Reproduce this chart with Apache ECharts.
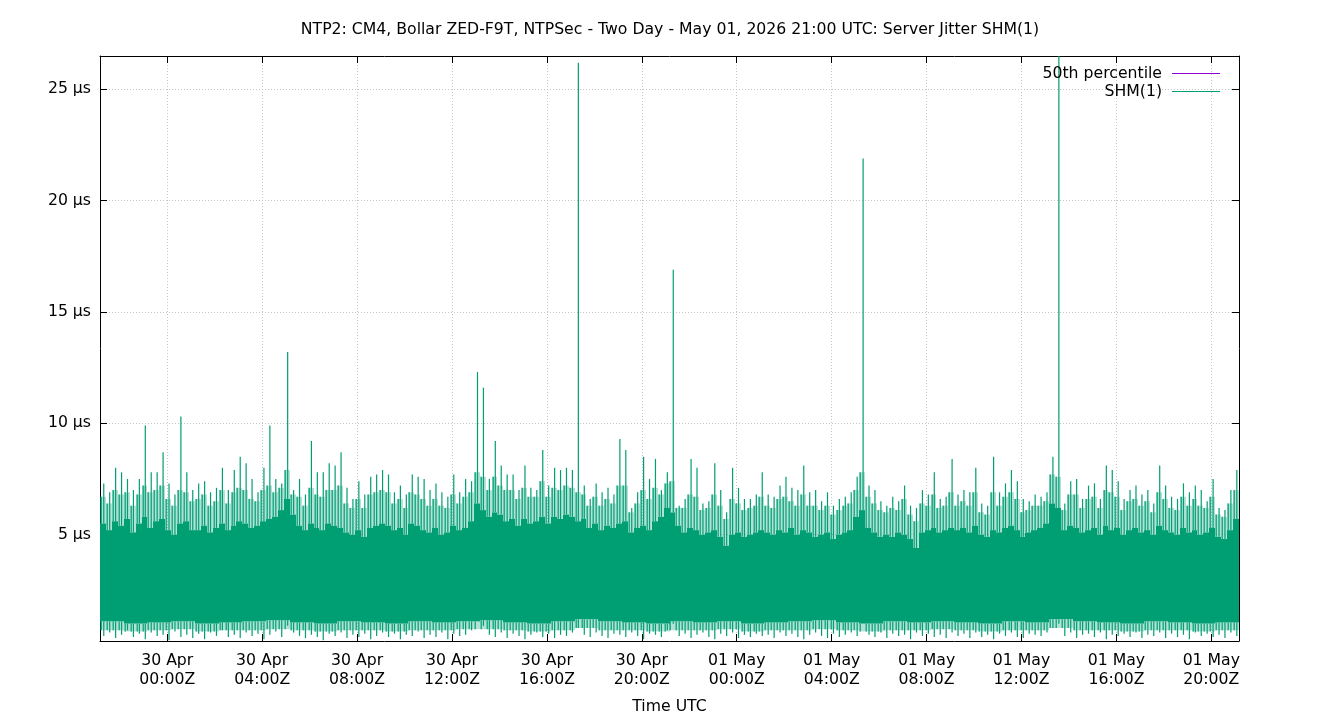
<!DOCTYPE html>
<html><head><meta charset="utf-8">
<script src="https://cdn.jsdelivr.net/npm/echarts@6/dist/echarts.min.js"></script>
<style>html,body{margin:0;padding:0;background:#fff}#c{width:1340px;height:720px}</style>
</head><body><div id="c"></div>
<script>
// time range of the plot (UTC)
const START = Date.UTC(2026, 3, 29, 21, 10);
const END = Date.UTC(2026, 4, 1, 21, 10);
const BIN_MS = 15 * 60 * 1000;

// per 15-minute bin: highest jitter value seen (µs)
const binPeak = [
  7.3, 6.9, 8.0, 7.8, 7.5, 7.0, 7.5, 9.9, 7.8, 7.8, 8.7, 7.3, 6.8, 10.3, 7.8, 7.0,
  7.3, 7.4, 6.9, 7.1, 8.0, 7.0, 7.9, 8.5, 8.2, 7.5, 6.9, 8.0, 9.9, 7.5, 7.3, 13.2,
  7.0, 7.5, 6.8, 9.2, 7.8, 7.8, 8.2, 8.1, 8.7, 7.1, 6.6, 7.4, 6.8, 7.6, 7.7, 7.9,
  7.7, 6.9, 7.2, 6.8, 7.7, 7.6, 7.5, 7.0, 7.3, 6.9, 6.7, 7.7, 6.9, 7.5, 7.4, 12.3,
  11.6, 7.5, 9.2, 8.1, 7.7, 7.7, 7.0, 8.1, 7.1, 7.0, 8.8, 7.2, 8.0, 7.9, 8.0, 7.9,
  26.2, 7.2, 6.6, 7.3, 6.9, 7.1, 6.8, 9.3, 8.8, 6.2, 6.9, 8.5, 7.5, 8.4, 7.0, 7.8,
  16.9, 6.3, 6.6, 8.4, 8.0, 6.4, 6.5, 8.2, 7.0, 6.0, 8.0, 7.1, 6.6, 6.6, 6.8, 7.8,
  6.8, 6.7, 7.2, 7.6, 7.1, 7.0, 8.1, 6.9, 7.0, 6.5, 6.9, 6.3, 6.6, 6.7, 6.9, 7.6,
  21.9, 7.2, 7.0, 6.5, 6.3, 6.7, 6.5, 7.2, 6.3, 6.2, 7.0, 6.8, 7.8, 6.6, 6.7, 8.4,
  6.8, 7.0, 6.9, 8.0, 6.4, 6.3, 8.5, 6.9, 7.3, 7.9, 7.4, 6.6, 6.5, 6.8, 6.7, 6.9,
  8.5, 27.0, 6.4, 7.4, 7.5, 6.6, 7.2, 7.3, 6.6, 8.1, 7.9, 7.4, 6.6, 7.0, 7.2, 6.8,
  7.0, 6.4, 8.1, 7.2, 6.7, 6.6, 7.3, 6.9, 7.2, 7.0, 6.5, 7.5, 6.2, 6.1, 7.0, 7.9
];
// per 15-minute bin: upper reach of the busy (half-dense) zone (µs)
const binUpper = [
  6.7, 6.4, 7.0, 6.8, 6.9, 6.3, 6.8, 7.2, 6.9, 7.0, 7.2, 6.6, 6.3, 7.0, 6.9, 6.5,
  6.6, 6.8, 6.3, 6.5, 7.0, 6.4, 6.9, 7.1, 7.0, 6.6, 6.5, 7.0, 7.2, 6.9, 7.1, 7.9,
  6.8, 6.7, 6.3, 7.1, 6.8, 6.7, 7.0, 7.0, 7.2, 6.4, 6.2, 6.6, 6.2, 6.8, 6.9, 7.0,
  6.9, 6.4, 6.6, 6.2, 6.9, 6.8, 6.6, 6.3, 6.6, 6.3, 6.2, 6.8, 6.4, 6.7, 6.9, 7.8,
  7.6, 7.0, 7.6, 7.2, 7.0, 7.0, 6.6, 7.1, 6.7, 6.7, 7.4, 6.7, 7.1, 7.0, 7.2, 7.1,
  6.9, 6.8, 6.3, 6.7, 6.3, 6.6, 6.4, 7.2, 7.2, 6.0, 6.4, 7.0, 6.6, 7.1, 6.8, 7.3,
  7.4, 6.2, 6.2, 6.8, 6.7, 6.1, 6.2, 6.8, 6.3, 5.7, 6.6, 6.4, 6.1, 6.2, 6.3, 6.7,
  6.3, 6.2, 6.6, 6.7, 6.5, 6.3, 6.8, 6.3, 6.3, 6.1, 6.3, 5.9, 6.1, 6.3, 6.4, 7.0,
  7.8, 6.7, 6.4, 6.1, 6.0, 6.2, 6.1, 6.6, 5.9, 5.6, 6.4, 6.3, 6.8, 6.2, 6.3, 6.9,
  6.3, 6.5, 6.3, 6.9, 6.0, 5.9, 6.9, 6.3, 6.7, 6.9, 6.6, 6.0, 6.1, 6.3, 6.3, 6.5,
  7.7, 7.6, 6.1, 6.8, 6.8, 6.2, 6.6, 6.7, 6.2, 7.0, 6.9, 6.7, 6.1, 6.5, 6.6, 6.3,
  6.5, 6.0, 6.9, 6.6, 6.2, 6.1, 6.7, 6.3, 6.6, 6.3, 6.2, 6.7, 5.9, 5.8, 6.4, 7.0
];
// per 15-minute bin: upper edge of the solid band (µs)
const binTop = [
  5.5, 5.2, 5.6, 5.4, 5.7, 5.1, 5.5, 5.8, 5.3, 5.6, 5.7, 5.2, 5.0, 5.5, 5.6, 5.2,
  5.2, 5.4, 5.1, 5.3, 5.5, 5.2, 5.4, 5.6, 5.5, 5.3, 5.4, 5.6, 5.7, 5.8, 6.1, 6.6,
  5.9, 5.4, 5.2, 5.5, 5.3, 5.2, 5.5, 5.4, 5.3, 5.1, 5.0, 5.2, 4.9, 5.3, 5.4, 5.5,
  5.4, 5.2, 5.3, 5.0, 5.5, 5.4, 5.2, 5.1, 5.3, 5.0, 5.1, 5.4, 5.2, 5.3, 5.6, 6.4,
  6.1, 5.8, 6.0, 5.9, 5.6, 5.7, 5.4, 5.7, 5.5, 5.6, 5.8, 5.5, 5.8, 5.7, 5.9, 5.8,
  5.6, 5.7, 5.3, 5.5, 5.2, 5.4, 5.3, 5.5, 5.6, 5.1, 5.3, 5.4, 5.2, 5.6, 5.8, 6.2,
  6.0, 5.4, 5.1, 5.3, 5.2, 5.0, 5.1, 5.2, 4.9, 4.5, 5.0, 5.1, 4.9, 5.0, 5.1, 5.2,
  5.1, 5.0, 5.2, 5.1, 5.3, 5.0, 5.2, 5.1, 4.9, 5.0, 5.1, 4.8, 5.0, 5.1, 5.2, 5.8,
  6.1, 5.3, 5.1, 4.9, 5.0, 4.9, 5.1, 5.0, 4.8, 4.4, 5.1, 5.2, 5.3, 5.1, 5.2, 5.3,
  5.2, 5.3, 5.1, 5.4, 5.0, 4.9, 5.2, 5.1, 5.3, 5.4, 5.2, 4.9, 5.1, 5.2, 5.3, 5.5,
  6.4, 6.2, 5.2, 5.4, 5.3, 5.1, 5.2, 5.3, 5.0, 5.4, 5.2, 5.3, 5.0, 5.2, 5.3, 5.1,
  5.2, 5.0, 5.4, 5.2, 5.1, 5.0, 5.3, 5.1, 5.2, 5.0, 5.1, 5.3, 4.9, 4.8, 5.2, 5.7
];
// per 15-minute bin: lowest jitter value seen (µs)
const binDip = [
  0.45, 0.6, 0.35, 0.5, 0.7, 0.4, 0.55, 0.3, 0.6, 0.45, 0.5, 0.25, 0.65, 0.4, 0.5, 0.35,
  0.55, 0.3, 0.6, 0.45, 0.7, 0.4, 0.5, 0.35, 0.6, 0.45, 0.55, 0.3, 0.5, 0.65, 0.4, 0.9,
  0.6, 0.45, 0.35, 0.5, 0.4, 0.25, 0.55, 0.45, 0.6, 0.35, 0.5, 0.4, 0.55, 0.3, 0.45, 0.6,
  0.4, 0.55, 0.3, 0.5, 0.45, 0.65, 0.35, 0.5, 0.4, 0.6, 0.3, 0.55, 0.45, 0.5, 0.7, 1.1,
  0.9, 0.5, 0.4, 0.6, 0.35, 0.55, 0.45, 0.3, 0.5, 0.6, 0.4, 0.55, 0.35, 0.5, 0.45, 0.6,
  0.8, 0.5, 0.4, 0.6, 0.45, 0.35, 0.55, 0.5, 0.4, 0.6, 0.45, 0.3, 0.55, 0.5, 0.4, 0.7,
  1.0, 0.45, 0.55, 0.35, 0.5, 0.6, 0.4, 0.3, 0.55, 0.45, 0.6, 0.35, 0.5, 0.4, 0.55, 0.45,
  0.5, 0.35, 0.6, 0.45, 0.55, 0.4, 0.3, 0.5, 0.6, 0.45, 0.35, 0.55, 0.4, 0.5, 0.6, 0.45,
  1.0, 0.5, 0.4, 0.6, 0.35, 0.55, 0.45, 0.5, 0.3, 0.6, 0.45, 0.55, 0.4, 0.5, 0.35, 0.6,
  0.45, 0.55, 0.35, 0.6, 0.4, 0.5, 0.3, 0.55, 0.45, 0.6, 0.4, 0.35, 0.55, 0.5, 0.45, 0.6,
  0.8, 1.0, 0.45, 0.6, 0.35, 0.5, 0.55, 0.4, 0.6, 0.3, 0.5, 0.45, 0.55, 0.4, 0.6, 0.35,
  0.5, 0.45, 0.6, 0.35, 0.55, 0.4, 0.5, 0.3, 0.6, 0.45, 0.55, 0.4, 0.5, 0.35, 0.6, 0.45
];
// per hour: lower edge of the solid band (µs)
const hourFloor = [
  1.1, 1.0, 1.05, 1.1, 1.0, 1.05, 1.1, 1.15, 1.05, 1.0, 1.1, 1.05,
  1.0, 1.1, 1.05, 1.1, 1.15, 1.05, 1.0, 1.1, 1.2, 1.1, 1.05, 1.0,
  1.1, 1.05, 1.1, 1.0, 1.05, 1.1, 1.15, 1.05, 1.0, 1.1, 1.05, 1.1,
  1.05, 1.0, 1.1, 1.05, 1.2, 1.1, 1.05, 1.0, 1.1, 1.05, 1.0, 1.05
];
// per hour: lower reach of the busy (half-dense) zone (µs)
const hourLower = [
  0.7, 0.65, 0.7, 0.75, 0.65, 0.7, 0.7, 0.75, 0.7, 0.65, 0.7, 0.7,
  0.65, 0.7, 0.7, 0.75, 0.75, 0.7, 0.65, 0.7, 0.8, 0.7, 0.7, 0.65,
  0.7, 0.7, 0.75, 0.65, 0.7, 0.7, 0.75, 0.7, 0.65, 0.7, 0.7, 0.75,
  0.7, 0.65, 0.7, 0.7, 0.8, 0.7, 0.7, 0.65, 0.7, 0.7, 0.65, 0.7
];
// 50th percentile (µs)
const p50Value = 2.07;

// tick positions / labels
const xTickTimes = [
  Date.UTC(2026, 3, 30, 0), Date.UTC(2026, 3, 30, 4), Date.UTC(2026, 3, 30, 8),
  Date.UTC(2026, 3, 30, 12), Date.UTC(2026, 3, 30, 16), Date.UTC(2026, 3, 30, 20),
  Date.UTC(2026, 4, 1, 0), Date.UTC(2026, 4, 1, 4), Date.UTC(2026, 4, 1, 8),
  Date.UTC(2026, 4, 1, 12), Date.UTC(2026, 4, 1, 16), Date.UTC(2026, 4, 1, 20)
];
const yTickValues = [5, 10, 15, 20, 25];
const monthNames = ['Jan','Feb','Mar','Apr','May','Jun','Jul','Aug','Sep','Oct','Nov','Dec'];

const TITLE = 'NTP2: CM4, Bollar ZED-F9T, NTPSec - Two Day - May 01, 2026 21:00 UTC: Server Jitter SHM(1)';
const FONT = 'DejaVu Sans';
const FS = 15.7;
const GREEN = '#009e73';
const PURPLE = '#9400d3';

const pad = n => (n < 10 ? '0' : '') + n;
// [time, floor, top, dip, peak, upper, lower]
const binData = binPeak.map((pk, i) => {
  const h = Math.floor(i / 4);
  return [START + (i + 0.5) * BIN_MS, hourFloor[h], binTop[i], binDip[i], pk, binUpper[i], hourLower[h]];
});

function renderBin(params, api) {
  const t = api.value(0);
  const cFloor = api.coord([t, api.value(1)]);
  const cTop = api.coord([t, api.value(2)]);
  const cDip = api.coord([t, api.value(3)]);
  const cPeak = api.coord([t, api.value(4)]);
  const cUpper = api.coord([t, api.value(5)]);
  const cLower = api.coord([t, api.value(6)]);
  const w = api.size([BIN_MS, 0])[0];
  const x0 = Math.round(cTop[0] - w / 2);
  const x1 = Math.round(cTop[0] + w / 2);
  const xc = cTop[0] + 0.8;
  const xs = x0 + 1.2;
  return {
    type: 'group',
    children: [
      {type: 'rect', shape: {x: x0, y: cUpper[1], width: x1 - x0, height: cTop[1] - cUpper[1]},
       style: {fill: GREEN, opacity: 0.3}},
      {type: 'rect', shape: {x: x0, y: cFloor[1], width: x1 - x0, height: cLower[1] - cFloor[1]},
       style: {fill: GREEN, opacity: 0.3}},
      {type: 'rect', shape: {x: x0, y: cTop[1], width: x1 - x0, height: cFloor[1] - cTop[1]},
       style: {fill: GREEN}},
      {type: 'line', shape: {x1: xs, y1: cUpper[1], x2: xs, y2: cTop[1]},
       style: {stroke: GREEN, lineWidth: 1.2}},
      {type: 'line', shape: {x1: xc, y1: cPeak[1], x2: xc, y2: cTop[1]},
       style: {stroke: GREEN, lineWidth: 1.2}},
      {type: 'line', shape: {x1: xs, y1: cFloor[1], x2: xs, y2: cLower[1]},
       style: {stroke: GREEN, lineWidth: 1.2}},
      {type: 'line', shape: {x1: xc, y1: cFloor[1], x2: xc, y2: cDip[1]},
       style: {stroke: GREEN, lineWidth: 1.2}}
    ]
  };
}

const chart = echarts.init(document.getElementById('c'), null, {renderer: 'canvas'});
const gridColor = '#c4c4c4';
chart.setOption({
  backgroundColor: '#ffffff',
  animation: false,
  textStyle: {fontFamily: FONT},
  title: {
    text: TITLE, left: 'center', top: 17,
    textStyle: {fontFamily: FONT, fontSize: FS, fontWeight: 'normal', color: '#000'}
  },
  legend: {
    orient: 'vertical', right: 120, top: 64.5, padding: 0,
    align: 'right', itemWidth: 48, itemHeight: 1, itemGap: 0,
    textStyle: {fontFamily: FONT, fontSize: FS, color: '#000', lineHeight: 18, padding: [0, 5, 0, 0]},
    data: [
      {name: '50th percentile', icon: 'rect', itemStyle: {color: PURPLE, borderWidth: 0}},
      {name: 'SHM(1)', icon: 'rect', itemStyle: {color: GREEN, borderWidth: 0}}
    ]
  },
  grid: {left: 100, top: 56, right: 101, bottom: 79},
  xAxis: [{
    type: 'value', min: START, max: END, position: 'bottom',
    name: 'Time UTC', nameLocation: 'middle', nameGap: 58,
    nameTextStyle: {fontFamily: FONT, fontSize: FS, color: '#000'},
    axisLine: {show: true, onZero: false, lineStyle: {color: '#000', width: 1}},
    axisTick: {show: true, inside: true, length: 7, customValues: xTickTimes, lineStyle: {color: '#000'}},
    axisLabel: {
      show: true, customValues: xTickTimes, margin: 11,
      fontFamily: FONT, fontSize: FS, color: '#000', lineHeight: 18.3,
      formatter: v => {
        const d = new Date(v);
        return pad(d.getUTCDate()) + ' ' + monthNames[d.getUTCMonth()] + '\n' +
          pad(d.getUTCHours()) + ':' + pad(d.getUTCMinutes()) + 'Z';
      }
    },
    splitLine: {show: true, lineStyle: {color: gridColor, width: 1, type: [1, 2]}}
  }, {
    type: 'value', min: START, max: END, position: 'top',
    axisLine: {show: true, onZero: false, lineStyle: {color: '#000', width: 1}},
    axisTick: {show: true, inside: true, length: 7, customValues: xTickTimes, lineStyle: {color: '#000'}},
    axisLabel: {show: false},
    splitLine: {show: false}
  }],
  yAxis: [{
    type: 'value', min: 0.22, max: 26.5, position: 'left',
    axisLine: {show: true, onZero: false, lineStyle: {color: '#000', width: 1}},
    axisTick: {show: true, inside: true, length: 7, customValues: yTickValues, lineStyle: {color: '#000'}},
    axisLabel: {
      show: true, customValues: yTickValues, margin: 9,
      fontFamily: FONT, fontSize: FS, color: '#000',
      formatter: v => v + ' µs'
    },
    splitLine: {show: true, lineStyle: {color: gridColor, width: 1, type: [1, 2]}}
  }, {
    type: 'value', min: 0.22, max: 26.5, position: 'right',
    axisLine: {show: true, onZero: false, lineStyle: {color: '#000', width: 1}},
    axisTick: {show: true, inside: true, length: 7, customValues: yTickValues, lineStyle: {color: '#000'}},
    axisLabel: {show: false},
    splitLine: {show: false}
  }],
  series: [{
    name: '50th percentile', type: 'line', xAxisIndex: 0, yAxisIndex: 0, z: 1,
    showSymbol: false, symbol: 'none', silent: true,
    lineStyle: {color: PURPLE, width: 1}, itemStyle: {color: PURPLE},
    data: [[START, p50Value], [END, p50Value]]
  }, {
    name: 'SHM(1)', type: 'custom', xAxisIndex: 0, yAxisIndex: 0, z: 2,
    clip: true, silent: true,
    itemStyle: {color: GREEN},
    renderItem: renderBin,
    encode: {x: 0, y: [1, 2, 3, 4]},
    data: binData
  }]
});
</script>
</body></html>
